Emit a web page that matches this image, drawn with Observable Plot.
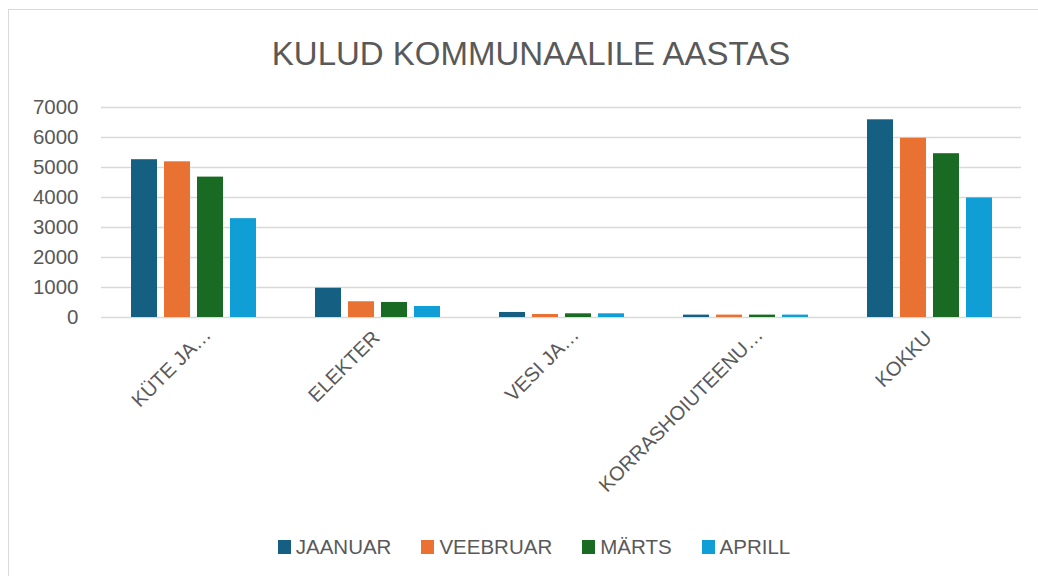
<!DOCTYPE html>
<html>
<head>
<meta charset="utf-8">
<script src="https://cdn.jsdelivr.net/npm/d3@7"></script>
<script src="https://cdn.jsdelivr.net/npm/@observablehq/plot@0.6"></script>
<style>
  html, body { margin: 0; padding: 0; background: #fff; }
  #wrap { position: relative; width: 1038px; height: 576px; overflow: hidden; background: #fff; font-family: "Liberation Sans", Arial, sans-serif; color: #595959; }
  #frame { position: absolute; left: 8px; top: 9px; width: 1100px; height: 700px; border-left: 1px solid #d9d9d9; border-top: 1px solid #d9d9d9; box-sizing: border-box; }
  #title { position: absolute; left: 8px; width: 1046px; top: 34px; height: 40px; line-height: 40px; font-size: 33px; text-align: center; white-space: nowrap; }
  #chart { position: absolute; left: 0; top: 80px; }
  #legend { position: absolute; left: 11px; width: 1046px; top: 537px; height: 20px; display: flex; justify-content: center; align-items: center; font-size: 20.5px; line-height: 20px; }
  .item { display: flex; align-items: center; margin: 0 15px; }
  .sw { width: 13px; height: 14px; margin-right: 5px; }
</style>
</head>
<body>
<div id="wrap">
  <div id="frame"></div>
  <div id="title">KULUD KOMMUNAALILE AASTAS</div>
  <div id="chart"></div>
  <div id="legend"></div>
</div>
<script>
const categories = ["KÜTE JA…", "ELEKTER", "VESI JA…", "KORRASHOIUTEENU…", "KOKKU"];
const months = ["JAANUAR", "VEEBRUAR", "MÄRTS", "APRILL"];
const colors = ["#156082", "#E97132", "#196B24", "#0F9ED5"];
const jaanuar  = [5260, 975, 168, 80, 6590];
const veebruar = [5190, 525, 100, 80, 5975];
const marts    = [4680, 500, 123, 80, 5460];
const aprill   = [3295, 368, 123, 80, 3985];
const yTicks = [0, 1000, 2000, 3000, 4000, 5000, 6000, 7000];

const series = [jaanuar, veebruar, marts, aprill];
const data = [];
categories.forEach((c, i) => {
  months.forEach((m, j) => data.push({cat: c, month: m, value: series[j][i]}));
});

const isTrunc = c => c.endsWith("…");

const plot = Plot.plot({
  width: 1038,
  height: 440,
  marginLeft: 99,
  marginRight: 16,
  marginTop: 27,
  marginBottom: 203,
  style: {fontFamily: "'Liberation Sans', Arial, sans-serif", fontSize: "20px", color: "#595959", background: "transparent", overflow: "visible"},
  fx: {domain: categories, padding: 0, label: null},
  x: {domain: months, paddingInner: 0.22, paddingOuter: 0.87, axis: null},
  y: {domain: [0, 7000], label: null},
  color: {domain: months, range: colors},
  marks: [
    Plot.gridY(yTicks, {stroke: "#d9d9d9", strokeOpacity: 1, strokeWidth: 1.3}),
    Plot.barY(data, {fx: "cat", x: "month", y: "value", fill: "month"}),
    Plot.axisY(yTicks, {tickSize: 0, tickPadding: 23, label: null, fontSize: 20.5, tickFormat: d => String(d)}),
    Plot.axisFx({anchor: "bottom", tickRotate: -45, tickSize: 0, tickPadding: 16, dx: 14, dy: -2, label: null, fontSize: 20, textAnchor: "end", tickFormat: d => isTrunc(d) ? d : ""}),
    Plot.axisFx({anchor: "bottom", tickRotate: -45, tickSize: 0, tickPadding: 16, dx: -1, dy: 1, label: null, fontSize: 20, textAnchor: "end", tickFormat: d => isTrunc(d) ? "" : d})
  ]
});
document.getElementById("chart").appendChild(plot);

const legend = document.getElementById("legend");
months.forEach((m, j) => {
  const it = document.createElement("div");
  it.className = "item";
  const sw = document.createElement("span");
  sw.className = "sw";
  sw.style.background = colors[j];
  const tx = document.createElement("span");
  tx.textContent = m;
  it.appendChild(sw);
  it.appendChild(tx);
  legend.appendChild(it);
});
</script>
</body>
</html>
